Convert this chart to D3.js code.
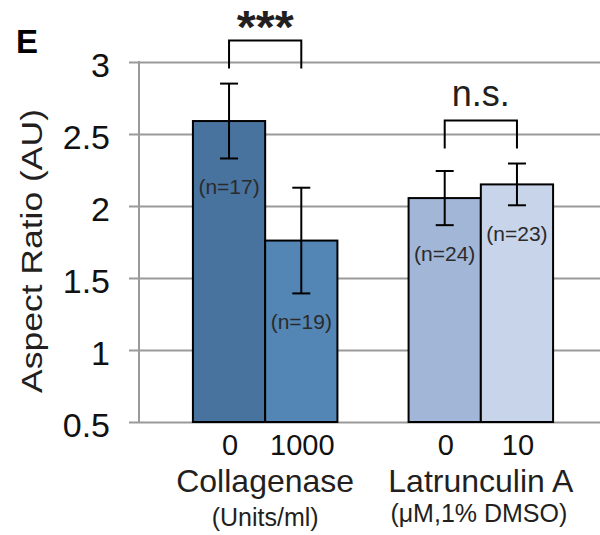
<!DOCTYPE html>
<html>
<head>
<meta charset="utf-8">
<script src="https://cdn.jsdelivr.net/npm/d3@7"></script>
<style>
  html, body { margin: 0; padding: 0; background: #fff; }
  svg { display: block; }
  text { font-family: "Liberation Sans", Arial, Helvetica, sans-serif; fill: #231f20; }
</style>
</head>
<body>
<svg id="chart" width="600" height="535"></svg>
<script>
// ---- data ----
const groups = ["Collagenase", "Latrunculin A"];
const groupUnits = ["(Units/ml)", "(\u03bcM,1% DMSO)"];
const doses = [["0", "1000"], ["0", "10"]];
const means = [[2.59, 1.76], [2.055, 2.15]];
const errors = [[0.26, 0.367], [0.188, 0.145]];
const counts = [["(n=17)", "(n=19)"], ["(n=24)", "(n=23)"]];
const colors = [["#48739f", "#5386b5"], ["#a2b6d7", "#c8d4e9"]];
const sigLabels = ["***", "n.s."];
const yTicks = [0.5, 1, 1.5, 2, 2.5, 3];
const yTickLabels = ["0.5", "1", "1.5", "2", "2.5", "3"];
const yTitle = "Aspect Ratio (AU)";
const panelLabel = "E";

// ---- layout ----
const svg = d3.select("#chart");
const axisX = 139, plotRight = 600, tickLeft = 129;

const y = d3.scaleLinear().domain([0.5, 3]).range([422, 62]);
const xGroup = d3.scaleBand().domain(groups).range([139, 607])
  .paddingInner(0.33).paddingOuter(0.25);
const xInner = d3.scaleBand().domain([0, 1]).range([0, xGroup.bandwidth()]).padding(0);

// gridlines + y ticks
const yAxis = d3.axisLeft(y)
  .tickValues(yTicks)
  .tickFormat((d, i) => yTickLabels[i])
  .tickSize(-(plotRight - tickLeft))
  .tickPadding(19);
const gy = svg.append("g").attr("transform", `translate(${tickLeft},0)`).call(yAxis);
gy.select(".domain").remove();
gy.selectAll(".tick line").attr("stroke", "#9a9a9a").attr("stroke-width", 2);
gy.selectAll(".tick text")
  .attr("dy", null).attr("y", 14.5)
  .style("font-size", "34px").style("fill", "#111");

// vertical axis line
svg.append("line")
  .attr("x1", axisX).attr("x2", axisX)
  .attr("y1", y(3) - 1).attr("y2", y(0.5) + 1)
  .attr("stroke", "#9a9a9a").attr("stroke-width", 2);

// bars
const flat = [];
groups.forEach((g, gi) => {
  doses[gi].forEach((d, di) => {
    const x0 = xGroup(g) + xInner(di);
    flat.push({ g, gi, di, x0, w: xInner.bandwidth(), cx: x0 + xInner.bandwidth() / 2,
      mean: means[gi][di], err: errors[gi][di], n: counts[gi][di], color: colors[gi][di], dose: d });
  });
});

svg.append("g").selectAll("rect").data(flat).join("rect")
  .attr("x", d => d.x0).attr("width", d => d.w)
  .attr("y", d => y(d.mean)).attr("height", d => y(0.5) - y(d.mean))
  .attr("fill", d => d.color).attr("stroke", "#000").attr("stroke-width", 2);

// error bars
const eb = svg.append("g").attr("stroke", "#000").attr("stroke-width", 2);
flat.forEach(d => {
  const top = y(d.mean + d.err), bot = y(d.mean - d.err);
  eb.append("line").attr("x1", d.cx).attr("x2", d.cx).attr("y1", top).attr("y2", bot);
  eb.append("line").attr("x1", d.cx - 9).attr("x2", d.cx + 9).attr("y1", top).attr("y2", top);
  eb.append("line").attr("x1", d.cx - 9).attr("x2", d.cx + 9).attr("y1", bot).attr("y2", bot);
});

// n labels
svg.append("g").selectAll("text").data(flat).join("text")
  .attr("x", d => d.cx).attr("y", d => y(d.mean - d.err) + 36)
  .attr("text-anchor", "middle")
  .style("font-size", "21px").style("fill", "#2a2a2a")
  .text(d => d.n);

// x tick labels
flat.forEach(d => {
  svg.append("text").attr("x", d.cx + 1).attr("y", 455)
    .attr("text-anchor", "middle").style("font-size", "29px").style("fill", "#111")
    .text(d.dose);
});

// group labels
groups.forEach((g, gi) => {
  const cx = xGroup(g) + xGroup.bandwidth() / 2;
  svg.append("text").attr("x", cx).attr("y", 492)
    .attr("text-anchor", "middle").style("font-size", "32px").text(g);
  svg.append("text").attr("x", cx - (gi ? 2 : 0)).attr("y", gi ? 522 : 526)
    .attr("text-anchor", "middle").style("font-size", "25px").text(groupUnits[gi]);
});

// significance brackets
groups.forEach((g, gi) => {
  const pts = flat.filter(d => d.gi === gi);
  const minTop = d3.min(pts, d => y(d.mean + d.err));
  const legBottom = minTop - 15;
  const top = legBottom - 28;
  svg.append("path")
    .attr("d", `M${pts[0].cx},${legBottom}V${top}H${pts[1].cx}V${legBottom}`)
    .attr("fill", "none").attr("stroke", "#000").attr("stroke-width", 2);
  const cx = (pts[0].cx + pts[1].cx) / 2;
  if (gi === 0) {
    svg.append("text").attr("x", cx).attr("y", top + 2.5)
      .attr("text-anchor", "middle")
      .attr("textLength", 57).attr("lengthAdjust", "spacingAndGlyphs")
      .style("font-size", "47px").style("font-weight", "bold")
      .text(sigLabels[gi]);
  } else {
    svg.append("text").attr("x", cx).attr("y", top - 15)
      .attr("text-anchor", "middle")
      .style("font-size", "36px")
      .text(sigLabels[gi]);
  }
});

// y title
svg.append("text")
  .attr("transform", "translate(42,251) rotate(-90)")
  .attr("text-anchor", "middle")
  .attr("textLength", 284).attr("lengthAdjust", "spacingAndGlyphs")
  .style("font-size", "29px")
  .text(yTitle);

// panel label
svg.append("text").attr("x", 16).attr("y", 53)
  .style("font-size", "33px").style("font-weight", "bold").style("fill", "#000")
  .text(panelLabel);
</script>
</body>
</html>
